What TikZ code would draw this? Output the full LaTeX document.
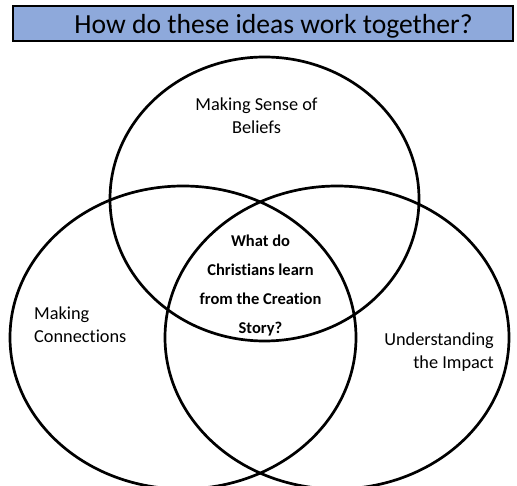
\documentclass[tikz,border=0pt]{standalone}
\usepackage{fontspec}
\setmainfont{Carlito}[Ligatures=NoCommon]
\definecolor{titleblue}{RGB}{142,169,219}
\tikzset{
  venn/.style={draw=black, line width=2.7pt},
  lbl/.style={font=\fontsize{18.3}{23}\selectfont, align=center, inner sep=0pt},
  ctr/.style={font=\bfseries\fontsize{16.5}{29}\selectfont, align=center, inner sep=0pt}
}
\begin{document}
\begin{tikzpicture}[x=1pt,y=-1pt]
\useasboundingbox (0,0) rectangle (517,486);
\clip (0,0) rectangle (517,486);
\node[draw=black, line width=1.8pt, fill=titleblue, minimum width=500pt, minimum height=35pt, inner sep=0pt, anchor=north west] (titlebar) at (12,5) {};
\node[font=\fontsize{27.6}{32}\selectfont, inner sep=0pt, anchor=base] (title) at (273.5,33.3) {How do these ideas work together?};
\draw[venn] (264.5,199) ellipse [x radius=154.5, y radius=142];
\draw[venn] (183,337.5) ellipse [x radius=173, y radius=151.5];
\draw[venn] (337,337.5) ellipse [x radius=172, y radius=151.5];
\node[lbl] (beliefs) at (256.5,116) {Making Sense of\\Beliefs};
\node[lbl, align=left, anchor=west] (conn) at (34,325) {Making\\Connections};
\node[lbl, align=right, anchor=east] (impact) at (494,352) {Understanding\\the Impact};
\node[ctr] (q) at (260.5,285.3) {What do\\Christians learn\\from the Creation\\Story?};
\end{tikzpicture}
\end{document}
